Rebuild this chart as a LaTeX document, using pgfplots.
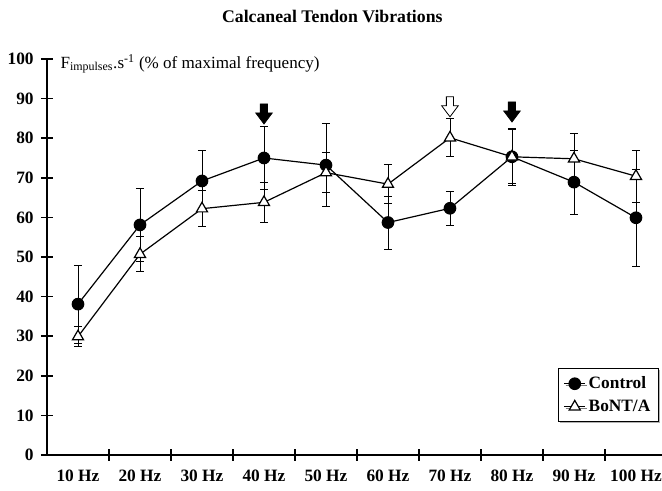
\documentclass[border=0pt]{standalone}
\usepackage{fontspec}
\setmainfont{Liberation Serif}
\usepackage{pgfplots}
\pgfplotsset{compat=1.18}
\usetikzlibrary{shadows}
\newcommand{\darrow}[2]{\draw[fill=#1, line width=0.6pt, line join=miter] (#2) -- ++(6.2pt,8.25pt) -- ++(-3.5pt,0) -- ++(0,6.75pt) -- ++(-5.4pt,0) -- ++(0,-6.75pt) -- ++(-3.5pt,0) -- cycle;}
\pgfplotstableread{
x y e
0 38.1 9.8
1 58.1 9.1
2 69.2 7.6
3 75.0 7.9
4 73.2 10.5
5 58.7 6.7
6 62.3 4.2
7 75.3 7.2
8 68.9 8.1
9 59.9 12.3
}\control
\pgfplotstableread{
x y e
0 29.9 2.5
1 50.7 4.4
2 62.2 4.5
3 63.8 5.0
4 71.3 5.1
5 68.4 4.9
6 80.1 4.8
7 75.3 6.8
8 74.8 6.4
9 70.4 6.6
}\bont
\begin{document}
\begin{tikzpicture}
\begin{axis}[
  at={(0,0)}, anchor=south west,
  scale only axis, width=461.25pt, height=297pt,
  xmin=-0.5, xmax=9.42, ymin=0, ymax=100,
  axis lines=left, axis line style={-, line width=1.1pt},
  xtick={0.5,1.5,...,8.5}, xticklabels={},
  extra x ticks={0,...,9},
  extra x tick labels={10 Hz,20 Hz,30 Hz,40 Hz,50 Hz,60 Hz,70 Hz,80 Hz,90 Hz,100 Hz},
  extra x tick style={major tick length=0pt},
  ytick={0,10,...,100},
  tick align=center, major tick length=9pt,
  tick style={line width=1.1pt, black},
  /pgf/number format/assume math mode=true,
  ticklabel style={font=\fontsize{13}{15}\selectfont\bfseries},
  yticklabel style={xshift=-2pt},
  xticklabel style={yshift=-8pt},
  clip=false,
  legend style={at={(rel axis cs:0.995,0.083)}, anchor=south east, draw, line width=0.9pt,
    fill=white, font=\fontsize{13}{15}\selectfont\bfseries, row sep=3pt,
    drop shadow={shadow xshift=1.2pt, shadow yshift=-1.2pt, fill=black!60},
    legend cell align=left, inner xsep=4pt, inner ysep=4pt},
  legend image code/.code={\draw[#1, line width=0.9pt] (0pt,0pt) -- (16pt,0pt); \draw[#1, mark repeat=1] plot coordinates {(8pt,0pt)};},
]
\addplot[black, line width=0.9pt, mark=*, mark size=4.3pt, mark options={solid, fill=black},
  error bars/.cd, y dir=both, y explicit, error bar style={line width=0.6pt}, error mark options={rotate=90, mark size=3pt, line width=0.6pt}]
  table[x=x, y=y, y error=e] {\control};
\addlegendentry{Control}
\addplot[black, line width=0.9pt, mark=triangle*, mark size=4.8pt, mark options={solid, fill=white},
  error bars/.cd, y dir=both, y explicit, error bar style={line width=0.6pt}, error mark options={rotate=90, mark size=3pt, line width=0.6pt}]
  table[x=x, y=y, y error=e] {\bont};
\addlegendentry{BoNT/A}
\coordinate (A1) at (axis cs:3,83.6);
\coordinate (A2) at (axis cs:6,85.4);
\coordinate (A3) at (axis cs:7,84.1);
\node[anchor=base west, font=\fontsize{12.8}{14}\selectfont, inner sep=0pt] at (axis cs:-0.5,97.7) [xshift=10pt] {F\textsubscript{impulses}.s\textsuperscript{-1} (\% of maximal frequency)};
\end{axis}
\darrow{black}{A1}
\darrow{white}{A2}
\darrow{black}{A3}
\node[font=\fontsize{13.3}{16}\selectfont\bfseries, anchor=base] at (214pt,324pt) {Calcaneal Tendon Vibrations};
\pgfresetboundingbox
\useasboundingbox (-35.25pt,-27pt) rectangle (461.25pt,341.25pt);
\end{tikzpicture}
\end{document}
